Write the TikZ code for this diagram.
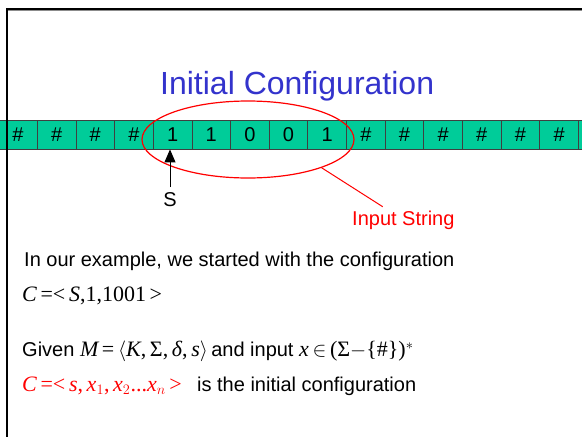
\documentclass[tikz,border=0pt]{standalone}
\usepackage{fontspec}
\setmainfont{Liberation Sans}
\newfontfamily\tms{Liberation Serif}
\usetikzlibrary{shapes.geometric,arrows.meta}
\definecolor{tapegreen}{RGB}{0,204,153}
\definecolor{titleblue}{RGB}{51,51,204}
\begin{document}
\begin{tikzpicture}[x=1pt,y=-1pt,
  cell/.style={draw=black!75, line width=0.8pt, fill=tapegreen, minimum width=38.65pt, minimum height=29pt, inner sep=0pt, font=\fontsize{20}{24}\selectfont},
  txt/.style={anchor=base west, inner sep=0pt, font=\fontsize{20}{24}\selectfont},
  mth/.style={anchor=base west, inner sep=0pt, font=\fontsize{22}{26}\selectfont\tms},
  frame/.style={line width=2pt, black}]
\useasboundingbox (0,0) rectangle (582,437);
\clip (0,0) rectangle (582,437);
% tape
\foreach \s [count=\i from 0] in {\#,\#,\#,\#,1,1,0,0,1,\#,\#,\#,\#,\#,\#,{}}
  \node[cell] (c\i) at ({18+38.65*\i},134.5) {\s};
% frame
\coordinate (ftl) at (7,9);
\coordinate (ftr) at (590,9);
\coordinate (fbl) at (7,445);
\draw[black!45, line width=1pt] (8,10.8) -- (590,10.8);
\draw[frame] (fbl) -- (ftl) -- (ftr);
% title
\node[anchor=base west, inner sep=0pt, text=titleblue, font=\fontsize{32}{38}\selectfont] (title) at (160,94.3) {Initial Configuration};
% ellipse
\node[ellipse, draw=red, line width=1.2pt, minimum width=212pt, minimum height=77pt, inner sep=0pt] (ell) at (248,139.5) {};
\coordinate (lend) at (382.7,206.7);
\draw[red, line width=1pt] (ell.-21) -- (lend);
\node[txt, text=red] (inp) at (352,225.7) {Input String};
% head arrow
\node[txt, anchor=base] (S) at (170,206.7) {S};
\coordinate (sb) at (170,187);
\draw[line width=1pt, -{Triangle[length=13pt,width=11pt]}] (sb) -- (sb |- c4.south);
% text lines
\node[txt] (l1) at (24,266.7) {In our example, we started with the configuration};
\node[mth] (l2) at (22,301) {\itshape C\upshape\,=<\,\itshape S\upshape,1,1001\,>};
\node[txt] (l3) at (22,356.7) {Given {\tms\fontsize{22}{26}\selectfont\itshape M\upshape\,=\,$\langle$\itshape K\upshape,\,Σ,\,\itshape δ\upshape,\,\itshape s\upshape$\rangle$}\,and input {\tms\fontsize{22}{26}\selectfont\itshape x\upshape\,$\in$\,(Σ$-$\{\#\})$^{*}$}};
\node[mth, text=red] (l4) at (22,391.7) {\itshape C\upshape\,=<\,\itshape s\upshape,\,\itshape x\upshape$_1$,\,\itshape x\upshape$_2$...\itshape x$_n$\upshape\,>};
\node[txt] (l4b) at (197,391.7) {is the initial configuration};
\end{tikzpicture}
\end{document}
